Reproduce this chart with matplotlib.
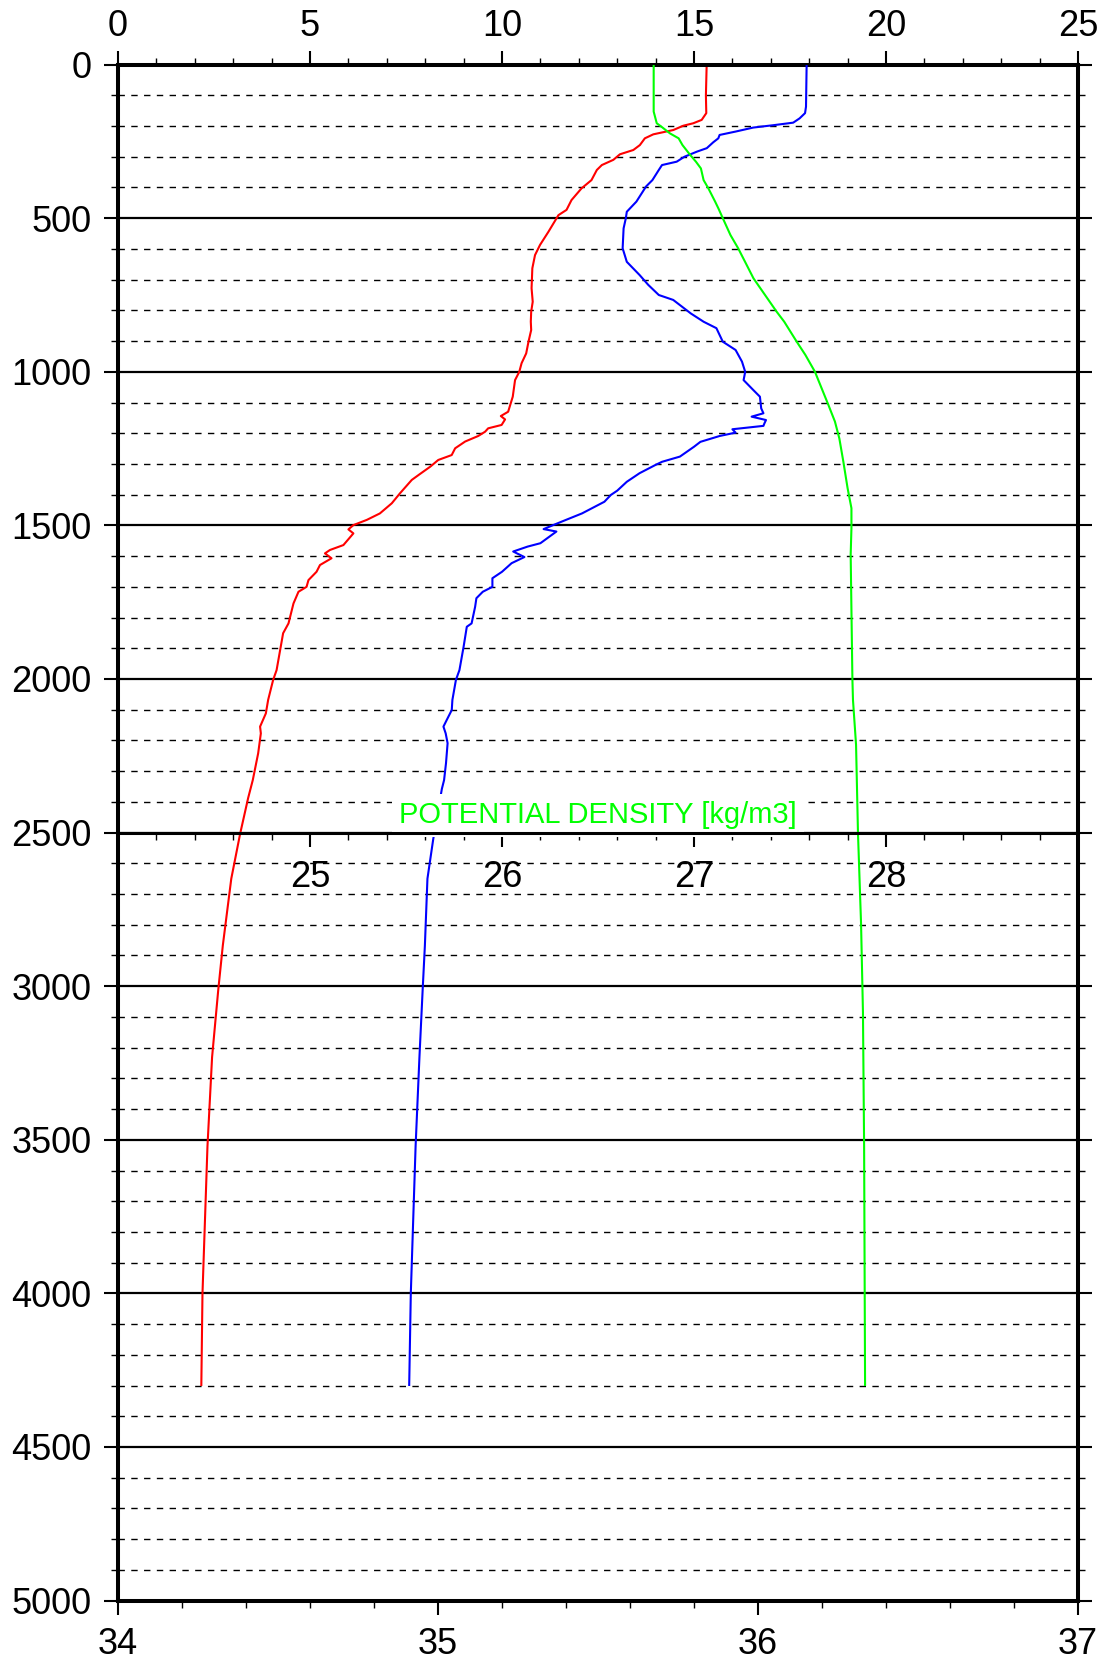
import numpy as np
import matplotlib.pyplot as plt
from matplotlib.ticker import MultipleLocator, FixedLocator

plt.rcParams['font.family'] = ['Liberation Sans', 'DejaVu Sans']

# temperature profile (red, top axis)
temp_depth = [0, 100, 158, 180, 191, 199, 213, 227, 240, 262, 278, 292, 310, 327, 343,
              376, 403, 441, 473, 490, 544, 587, 620, 663, 728, 772, 804, 837, 864, 902,
              940, 972, 1000, 1027, 1081, 1130, 1144, 1155, 1173, 1184, 1195, 1209, 1227,
              1249, 1271, 1287, 1309, 1333, 1352, 1396, 1428, 1461, 1482, 1499, 1513, 1526,
              1564, 1580, 1591, 1607, 1629, 1651, 1678, 1700, 1716, 1754, 1819, 1851, 1971,
              2003, 2068, 2112, 2155, 2177, 2242, 2329, 2387, 2504, 2650, 2867, 3013, 3231,
              3521, 4001, 4298]
temp = [15.33, 15.31, 15.32, 15.20, 14.98, 14.72, 14.46, 13.94, 13.72, 13.59, 13.42, 13.07,
        12.90, 12.60, 12.47, 12.33, 12.07, 11.81, 11.68, 11.47, 11.21, 10.99, 10.86, 10.79,
        10.77, 10.80, 10.76, 10.75, 10.76, 10.69, 10.63, 10.51, 10.45, 10.34, 10.28, 10.16,
        9.97, 10.08, 9.99, 9.64, 9.56, 9.38, 9.04, 8.78, 8.69, 8.34, 8.13, 7.86, 7.65, 7.34,
        7.13, 6.82, 6.48, 6.13, 6.00, 6.13, 5.87, 5.52, 5.39, 5.56, 5.26, 5.17, 4.96, 4.91,
        4.70, 4.57, 4.44, 4.30, 4.13, 4.04, 3.91, 3.85, 3.70, 3.72, 3.65, 3.51, 3.39, 3.18,
        2.95, 2.73, 2.61, 2.45, 2.33, 2.20, 2.17]

# salinity profile (blue, bottom axis)
sal_depth = [0, 137, 158, 175, 189, 197, 205, 218, 229, 240, 253, 272, 283, 300, 316, 327,
             343, 376, 397, 446, 479, 500, 533, 598, 642, 685, 717, 750, 766, 810, 837, 858,
             902, 929, 967, 1000, 1027, 1059, 1081, 1119, 1135, 1146, 1157, 1168, 1176, 1187,
             1198, 1209, 1228, 1244, 1276, 1293, 1303, 1330, 1358, 1387, 1401, 1423, 1461,
             1482, 1499, 1512, 1520, 1558, 1569, 1585, 1603, 1623, 1651, 1672, 1700, 1716,
             1737, 1765, 1819, 1830, 1895, 1971, 2003, 2068, 2101, 2134, 2155, 2177, 2209,
             2274, 2329, 2358, 2522, 2650, 2868, 3013, 3231, 3521, 4001, 4298]
sal = [36.152, 36.150, 36.147, 36.13, 36.11, 36.05, 35.985, 35.93, 35.88, 35.876, 35.86,
       35.84, 35.81, 35.77, 35.746, 35.70, 35.69, 35.67, 35.65, 35.62, 35.59, 35.587, 35.58,
       35.577, 35.59, 35.63, 35.657, 35.69, 35.735, 35.79, 35.83, 35.87, 35.89, 35.93, 35.95,
       35.96, 35.955, 35.985, 36.006, 36.01, 36.017, 35.98, 36.025, 36.02, 36.017, 35.92,
       35.93, 35.88, 35.82, 35.80, 35.756, 35.70, 35.68, 35.63, 35.59, 35.56, 35.54, 35.52,
       35.45, 35.40, 35.36, 35.33, 35.37, 35.32, 35.28, 35.235, 35.27, 35.23, 35.20, 35.17,
       35.17, 35.14, 35.12, 35.116, 35.105, 35.09, 35.08, 35.067, 35.056, 35.045, 35.043,
       35.027, 35.017, 35.024, 35.03, 35.025, 35.019, 35.012, 34.985, 34.967, 34.959,
       34.952, 34.942, 34.93, 34.915, 34.91]

# potential density profile (green, middle axis)
dens_depth = [0, 153, 191, 202, 224, 240, 262, 294, 316, 338, 376, 403, 446, 468, 500, 555,
              598, 642, 696, 750, 804, 837, 902, 945, 1000, 1054, 1108, 1162, 1217, 1293,
              1379, 1444, 1509, 1596, 2000, 2068, 2214, 2500, 2795, 3085, 3521, 4298]
dens = [26.79, 26.79, 26.806, 26.83, 26.875, 26.92, 26.94, 26.98, 27.01, 27.036, 27.05,
        27.075, 27.11, 27.127, 27.15, 27.19, 27.23, 27.266, 27.31, 27.37, 27.43, 27.47,
        27.535, 27.58, 27.63, 27.665, 27.70, 27.734, 27.757, 27.778, 27.80, 27.82, 27.82,
        27.816, 27.825, 27.828, 27.844, 27.854, 27.87, 27.88, 27.886, 27.891]

dens_ticks = [25, 26, 27, 28]

FS = 26

fig = plt.figure(figsize=(11.07, 16.63), dpi=100)
ax = fig.add_axes([118 / 1107, 62.4 / 1663, 960 / 1107, 1536 / 1663])
ax2 = ax.twiny()
ax3 = ax.twiny()

# depth / temperature axes
ax.set_ylim(5000, 0)
ax.set_xlim(0, 25)
ax.yaxis.set_major_locator(MultipleLocator(500))
ax.yaxis.set_minor_locator(MultipleLocator(100))
ax.xaxis.set_major_locator(MultipleLocator(5))
ax.xaxis.set_minor_locator(MultipleLocator(1))
ax.xaxis.set_ticks_position('top')
ax.xaxis.set_label_position('top')
ax.tick_params(axis='x', which='both', top=True, bottom=False, labeltop=True, labelbottom=False)
ax.tick_params(axis='y', which='both', left=True, right=True, direction='out')
ax.tick_params(which='major', length=10, width=1.5, labelsize=FS)
ax.tick_params(which='minor', length=5, width=1.0)
ax.tick_params(axis='y', which='major', pad=9)
ax.tick_params(axis='x', which='major', pad=4.5)
ax.grid(which='major', axis='y', color='black', lw=1.6)
ax.grid(which='minor', axis='y', color='black', lw=1.0, linestyle=(0, (4.6, 4.6)))
ax.set_axisbelow(True)
for sp in ax.spines.values():
    sp.set_linewidth(2.9)

ax.plot(temp, temp_depth, color='#ff0000', lw=1.5)

# salinity axis at the bottom
ax2.set_xlim(34, 37)
ax2.xaxis.set_ticks_position('bottom')
ax2.xaxis.set_label_position('bottom')
ax2.xaxis.set_major_locator(MultipleLocator(1))
ax2.xaxis.set_minor_locator(MultipleLocator(0.2))
ax2.tick_params(which='major', length=10, width=1.5, labelsize=FS, pad=9)
ax2.tick_params(which='minor', length=5, width=1.0)
for sp in ax2.spines.values():
    sp.set_visible(False)

ax2.plot(sal, sal_depth, color='#0000ff', lw=1.5)

# density axis across the middle (2500 m)
ax3.set_xlim(24, 29)
ax3.xaxis.set_ticks_position('bottom')
ax3.spines['bottom'].set_position(('axes', 0.5))
ax3.xaxis.set_major_locator(FixedLocator(dens_ticks))
ax3.xaxis.set_minor_locator(MultipleLocator(0.2))
ax3.tick_params(which='major', length=10, width=1.5, labelsize=FS, pad=10)
ax3.tick_params(which='minor', length=5, width=1.0)
for name, sp in ax3.spines.items():
    sp.set_visible(name == 'bottom')
ax3.spines['bottom'].set_linewidth(2.2)

ax3.plot(dens, dens_depth, color='#00ff00', lw=1.5)
ax3.text(26.5, 2470, 'POTENTIAL DENSITY [kg/m3]', color='#00ff00', fontsize=21,
         ha='center', va='baseline', zorder=2.2,
         bbox=dict(boxstyle='square,pad=0.25', fc='white', ec='none'))

fig.savefig('out.png', dpi=100)
